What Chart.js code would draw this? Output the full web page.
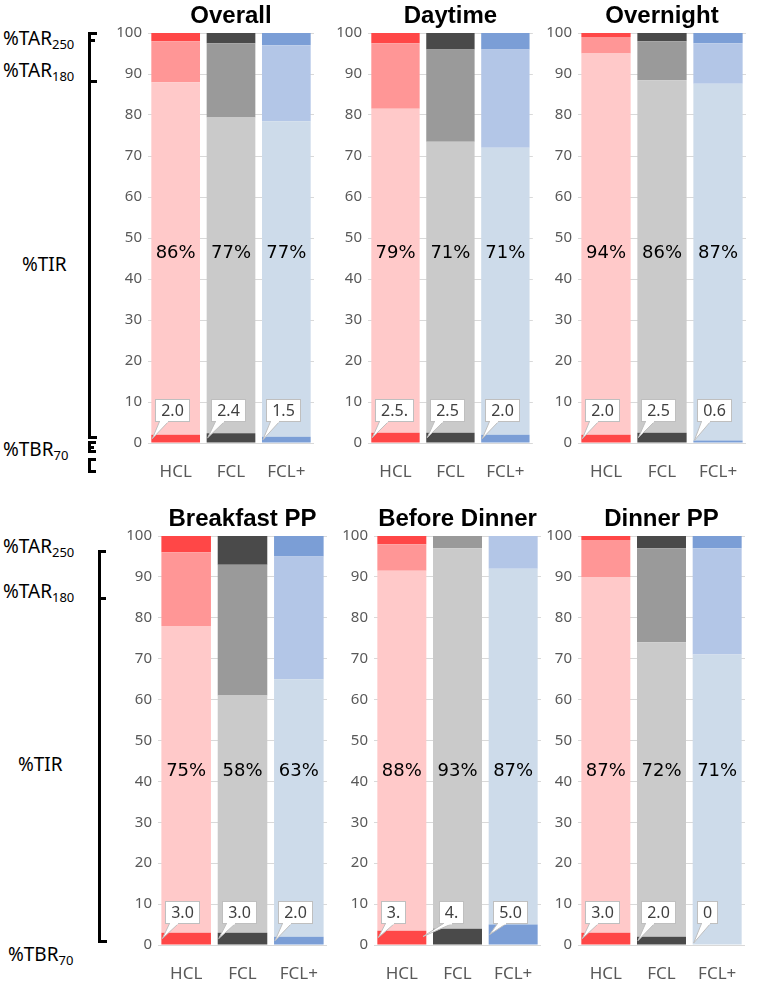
<!DOCTYPE html>
<html><head><meta charset="utf-8">
<script src="https://cdn.jsdelivr.net/npm/chart.js@4.4.1/dist/chart.umd.min.js"></script>
<style>
html,body{margin:0;padding:0;background:#fff;}
body{width:757px;height:981px;position:relative;overflow:hidden;font-family:"Noto Sans",sans-serif;}
.panel{position:absolute;}
.ann{position:absolute;font-size:19px;color:#000;white-space:nowrap;line-height:1;font-family:"Noto Sans",sans-serif;}
.ann sub{font-size:13px;vertical-align:baseline;position:relative;top:4px;}
.v{position:absolute;width:3px;background:#000;}
.h{position:absolute;height:3px;background:#000;}
</style></head><body>

<div class="ann" style="left:3px;top:29px">%TAR<sub>250</sub></div>
<div class="ann" style="left:3px;top:61px">%TAR<sub>180</sub></div>
<div class="ann" style="left:22px;top:255px">%TIR</div>
<div class="ann" style="left:3px;top:440px">%TBR<sub>70</sub></div>

<div class="ann" style="left:3px;top:537px">%TAR<sub>250</sub></div>
<div class="ann" style="left:3px;top:582px">%TAR<sub>180</sub></div>
<div class="ann" style="left:18px;top:755px">%TIR</div>
<div class="ann" style="left:8px;top:945px">%TBR<sub>70</sub></div>

<!-- top brackets -->
<div class="v" style="left:88px;top:32px;height:407px"></div>
<div class="h" style="left:88px;top:32px;width:9px"></div>
<div class="h" style="left:88px;top:39px;width:7px"></div>
<div class="h" style="left:88px;top:80px;width:9px"></div>
<div class="h" style="left:88px;top:436px;width:9px"></div>
<div class="v" style="left:88px;top:441px;height:12px"></div>
<div class="h" style="left:88px;top:441px;width:8px"></div>
<div class="h" style="left:88px;top:446px;width:6px"></div>
<div class="h" style="left:88px;top:450px;width:8px"></div>
<div class="v" style="left:88px;top:458px;height:15px"></div>
<div class="h" style="left:88px;top:458px;width:8px"></div>
<div class="h" style="left:88px;top:470px;width:8px"></div>
<!-- bottom brackets -->
<div class="v" style="left:98px;top:550px;height:393px"></div>
<div class="h" style="left:98px;top:550px;width:8px"></div>
<div class="h" style="left:98px;top:597px;width:8px"></div>
<div class="h" style="left:98px;top:940px;width:9px"></div>

<div class="panel" style="left:100px;top:0px"><canvas id="c0" width="220" height="490"></canvas></div>
<div class="panel" style="left:322px;top:0px"><canvas id="c1" width="214" height="490"></canvas></div>
<div class="panel" style="left:536px;top:0px"><canvas id="c2" width="221" height="490"></canvas></div>
<div class="panel" style="left:100px;top:503px"><canvas id="c3" width="230" height="478"></canvas></div>
<div class="panel" style="left:330px;top:503px"><canvas id="c4" width="215" height="478"></canvas></div>
<div class="panel" style="left:535px;top:503px"><canvas id="c5" width="215" height="478"></canvas></div>

<script>
// ---------- data ----------
const categories = ['HCL', 'FCL', 'FCL+'];
const yTicks = [0, 10, 20, 30, 40, 50, 60, 70, 80, 90, 100];

// segment order bottom->top: %TBR70, %TIR, %TAR180, %TAR250
const overallTBR    = [2.0, 2.4, 1.5];
const overallTIR    = [86, 77, 77];
const overallTAR180 = [10, 18.1, 18.5];
const overallTAR250 = [2, 2.5, 3];
const overallPct    = ['86%', '77%', '77%'];
const overallTBRLbl = ['2.0', '2.4', '1.5'];

const daytimeTBR    = [2.5, 2.5, 2.0];
const daytimeTIR    = [79, 71, 70];
const daytimeTAR180 = [16, 22.5, 24];
const daytimeTAR250 = [2.5, 4, 4];
const daytimePct    = ['79%', '71%', '71%'];
const daytimeTBRLbl = ['2.5.', '2.5', '2.0'];

const overnightTBR    = [2.0, 2.5, 0.6];
const overnightTIR    = [93, 86, 87];
const overnightTAR180 = [4, 9.5, 9.9];
const overnightTAR250 = [1, 2, 2.5];
const overnightPct    = ['94%', '86%', '87%'];
const overnightTBRLbl = ['2.0', '2.5', '0.6'];

const breakfastTBR    = [3.0, 3.0, 2.0];
const breakfastTIR    = [75, 58, 63];
const breakfastTAR180 = [18, 32, 30];
const breakfastTAR250 = [4, 7, 5];
const breakfastPct    = ['75%', '58%', '63%'];
const breakfastTBRLbl = ['3.0', '3.0', '2.0'];

const beforeDinnerTBR    = [3.5, 4.0, 5.0];
const beforeDinnerTIR    = [88, 93, 87];
const beforeDinnerTAR180 = [6.5, 3, 8];
const beforeDinnerTAR250 = [2, 0, 0];
const beforeDinnerPct    = ['88%', '93%', '87%'];
const beforeDinnerTBRLbl = ['3.', '4.', '5.0'];

const dinnerTBR    = [3.0, 2.0, 0];
const dinnerTIR    = [87, 72, 71];
const dinnerTAR180 = [9, 23, 26];
const dinnerTAR250 = [1, 3, 3];
const dinnerPct    = ['87%', '72%', '71%'];
const dinnerTBRLbl = ['3.0', '2.0', '0'];

// ---------- styles ----------
const darkColors  = ['#FF4747', '#4A4A4A', '#7B9ED6'];
const midColors   = ['#FF9696', '#9A9A9A', '#B3C6E7'];
const lightColors = ['#FFC9C9', '#CACACA', '#CDDBEA'];

const annotPlugin = {
  id: 'annot',
  afterDatasetsDraw(chart, args, opts) {
    const ctx = chart.ctx;
    const ys = chart.scales.y;
    const meta = chart.getDatasetMeta(0);
    ctx.save();
    meta.data.forEach((bar, i) => {
      const left = bar.x - bar.width / 2;
      // percent label
      ctx.font = '18px "DejaVu Sans"';
      ctx.fillStyle = '#000';
      ctx.textAlign = 'center';
      ctx.textBaseline = 'middle';
      ctx.fillText(opts.pct[i], bar.x, ys.getPixelForValue(opts.pctAt));
      // callout
      const txt = opts.tbr[i];
      ctx.font = '16px "Noto Sans"';
      const tw = ctx.measureText(txt).width;
      const bw = Math.round(tw + 11), bh = 22;
      const dx = (opts.boxDx && opts.boxDx[i] != null) ? opts.boxDx[i] : 4;
      const tdx = (opts.tipDx && opts.tipDx[i] != null) ? opts.tipDx[i] : 1;
      const bx = Math.round(left + dx) + 0.5;
      const by = Math.round(ys.getPixelForValue(opts.boxAt)) + 0.5;
      const tipX = left + tdx;
      const tipY = Math.min(bar.base - 2, (bar.y + bar.base) / 2);
      ctx.lineWidth = 1;
      ctx.strokeStyle = '#BFBFBF';
      ctx.fillStyle = '#fff';
      ctx.beginPath();
      ctx.moveTo(bx + 4, by + bh);
      ctx.lineTo(tipX, tipY);
      ctx.lineTo(bx + 13, by + bh);
      ctx.closePath();
      ctx.fill();
      ctx.beginPath();
      ctx.moveTo(bx + 4, by + bh);
      ctx.lineTo(tipX, tipY);
      ctx.lineTo(bx + 13, by + bh);
      ctx.stroke();
      ctx.fillRect(bx, by, bw, bh);
      ctx.strokeRect(bx, by, bw, bh);
      ctx.fillRect(bx + 4.5, by + bh - 1, 8, 2);
      ctx.fillStyle = '#404040';
      ctx.textAlign = 'center';
      ctx.textBaseline = 'middle';
      ctx.fillText(txt, bx + bw / 2, by + bh / 2 + 1);
    });
    ctx.restore();
  }
};

function makePanel(id, title, tbr, tir, t180, t250, pct, tbrLbl, geo) {
  new Chart(document.getElementById(id), {
    type: 'bar',
    data: {
      labels: categories,
      datasets: [
        { label: '%TBR70', data: tbr, backgroundColor: darkColors },
        { label: '%TIR', data: tir, backgroundColor: lightColors },
        { label: '%TAR180', data: t180, backgroundColor: midColors },
        { label: '%TAR250', data: t250, backgroundColor: darkColors }
      ]
    },
    options: {
      responsive: false,
      animation: false,
      events: [],
      layout: { padding: { top: 0, left: 0, right: geo.rp, bottom: 0 } },
      datasets: { bar: { barPercentage: 0.88, categoryPercentage: 1, borderWidth: 0 } },
      scales: {
        x: {
          stacked: true,
          grid: { display: false },
          border: { display: false },
          ticks: { color: '#595959', font: { family: 'Noto Sans', size: 17 }, padding: geo.xpad },
          afterFit: s => { s.height = geo.xh; }
        },
        y: {
          stacked: true,
          min: 0, max: 100,
          afterBuildTicks: s => { s.ticks = yTicks.map(v => ({ value: v })); },
          grid: { color: '#D9D9D9', drawTicks: false, lineWidth: 1 },
          border: { display: false },
          ticks: { color: '#595959', font: { family: 'Noto Sans', size: 15 }, padding: 6 },
          afterFit: s => { s.width = geo.yw; }
        }
      },
      plugins: {
        legend: { display: false },
        tooltip: { enabled: false },
        title: {
          display: true, text: title, fullSize: false, color: '#000',
          font: { family: 'Liberation Sans', size: 24, weight: 'bold' },
          padding: { top: 2, bottom: 2.2 }
        },
        annot: { pct: pct, tbr: tbrLbl, pctAt: geo.pctAt, boxAt: geo.boxAt, boxDx: geo.boxDx, tipDx: geo.tipDx }
      }
    },
    plugins: [annotPlugin]
  });
}

const topGeo = { xh: 47, xpad: 11, pctAt: 46.3, boxAt: 10.8 };
const botGeo = { xh: 36, xpad: 11, pctAt: 42.5, boxAt: 10.8 };

makePanel('c0', 'Overall', overallTBR, overallTIR, overallTAR180, overallTAR250, overallPct, overallTBRLbl,
  Object.assign({ yw: 48, rp: 6 }, topGeo));
makePanel('c1', 'Daytime', daytimeTBR, daytimeTIR, daytimeTAR180, daytimeTAR250, daytimePct, daytimeTBRLbl,
  Object.assign({ yw: 46, rp: 2 }, topGeo));
makePanel('c2', 'Overnight', overnightTBR, overnightTIR, overnightTAR180, overnightTAR250, overnightPct, overnightTBRLbl,
  Object.assign({ yw: 42, rp: 11 }, topGeo));
makePanel('c3', 'Breakfast PP', breakfastTBR, breakfastTIR, breakfastTAR180, breakfastTAR250, breakfastPct, breakfastTBRLbl,
  Object.assign({ yw: 58, rp: 3 }, botGeo));
makePanel('c4', 'Before Dinner', beforeDinnerTBR, beforeDinnerTIR, beforeDinnerTAR180, beforeDinnerTAR250, beforeDinnerPct, beforeDinnerTBRLbl,
  Object.assign({ yw: 44, rp: 4, boxDx: [4, 6, 4], tipDx: [1, -10, 1] }, botGeo));
makePanel('c5', 'Dinner PP', dinnerTBR, dinnerTIR, dinnerTAR180, dinnerTAR250, dinnerPct, dinnerTBRLbl,
  Object.assign({ yw: 43, rp: 5 }, botGeo));
</script>
</body></html>
